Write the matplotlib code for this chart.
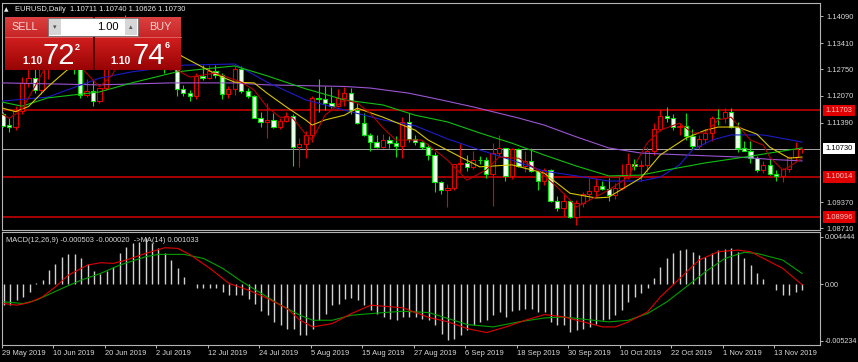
import matplotlib
matplotlib.use("Agg")
import matplotlib.pyplot as plt
import matplotlib.transforms as mtransforms
from matplotlib.patches import Rectangle
from matplotlib.colors import to_rgb
import numpy as np
import pandas as pd

plt.rcParams['font.family'] = ['Liberation Sans', 'DejaVu Sans']

# EURUSD daily bars, 29 May - 19 Nov 2019
dates = pd.bdate_range("2019-05-29", "2019-11-19")

opens = [1.1161, 1.1133, 1.1128, 1.1169, 1.1240, 1.1252, 1.1222, 1.1276, 1.1332, 1.1313,
         1.1326, 1.1288, 1.1275, 1.1209, 1.1219, 1.1194, 1.1227, 1.1293, 1.1369, 1.1398,
         1.1366, 1.1370, 1.1369, 1.1373, 1.1286, 1.1288, 1.1283, 1.1284, 1.1225, 1.1215,
         1.1207, 1.1258, 1.1253, 1.1271, 1.1260, 1.1211, 1.1225, 1.1276, 1.1219, 1.1208,
         1.1152, 1.1141, 1.1147, 1.1127, 1.1143, 1.1155, 1.1078, 1.1084, 1.1108, 1.1202,
         1.1199, 1.1190, 1.1181, 1.1202, 1.1214, 1.1170, 1.1139, 1.1107, 1.1090, 1.1078,
         1.1096, 1.1087, 1.1081, 1.1142, 1.1097, 1.1089, 1.1077, 1.1057, 1.0989, 1.0967,
         1.0973, 1.1034, 1.1037, 1.1027, 1.1045, 1.1044, 1.1008, 1.1063, 1.1074, 1.1003,
         1.1072, 1.1030, 1.1042, 1.1016, 1.0990, 1.1018, 1.0941, 1.0922, 1.0940, 1.0899,
         1.0934, 1.0959, 1.0966, 1.0978, 1.0971, 1.0955, 1.0973, 1.1003, 1.1034, 1.1030,
         1.1032, 1.1068, 1.1124, 1.1156, 1.1150, 1.1127, 1.1130, 1.1105, 1.1080, 1.1097,
         1.1113, 1.1152, 1.1150, 1.1166, 1.1129, 1.1074, 1.1068, 1.1050, 1.1020, 1.1032,
         1.1010, 1.1005, 1.1022, 1.1051, 1.10711]
highs = [1.1165, 1.1150, 1.1181, 1.1256, 1.1285, 1.1307, 1.1310, 1.1348, 1.1336, 1.1346,
         1.1334, 1.1296, 1.1290, 1.1250, 1.1247, 1.1228, 1.1318, 1.1373, 1.1404, 1.1412,
         1.1385, 1.1393, 1.1380, 1.1376, 1.1321, 1.1304, 1.1295, 1.1286, 1.1234, 1.1223,
         1.1265, 1.1286, 1.1286, 1.1285, 1.1265, 1.1233, 1.1282, 1.1284, 1.1228, 1.1210,
         1.1165, 1.1188, 1.1163, 1.1151, 1.1167, 1.1162, 1.1100, 1.1117, 1.1207, 1.1250,
         1.1232, 1.1229, 1.1225, 1.1230, 1.1228, 1.1188, 1.1163, 1.1113, 1.1108, 1.1111,
         1.1106, 1.1105, 1.1153, 1.1164, 1.1108, 1.1093, 1.1085, 1.1065, 1.0990, 1.0983,
         1.1034, 1.1085, 1.1057, 1.1067, 1.1055, 1.1053, 1.1087, 1.1109, 1.1075, 1.1075,
         1.1076, 1.1068, 1.1076, 1.1019, 1.1025, 1.1022, 1.0953, 1.0960, 1.0944, 1.0943,
         1.0963, 1.0998, 1.0999, 1.0991, 1.0999, 1.0986, 1.1035, 1.1063, 1.1047, 1.1044,
         1.1077, 1.1139, 1.1172, 1.1179, 1.1160, 1.1139, 1.1163, 1.1124, 1.1107, 1.1124,
         1.1155, 1.1175, 1.1177, 1.1176, 1.1140, 1.1092, 1.1093, 1.1055, 1.1041, 1.1046,
         1.1020, 1.1023, 1.1054, 1.1089, 1.10740]
lows = [1.1128, 1.1116, 1.1120, 1.1160, 1.1229, 1.1215, 1.1211, 1.1251, 1.1293, 1.1303,
        1.1284, 1.1263, 1.1202, 1.1203, 1.1181, 1.1188, 1.1222, 1.1285, 1.1365, 1.1361,
        1.1359, 1.1364, 1.1351, 1.1281, 1.1276, 1.1266, 1.1272, 1.1207, 1.1208, 1.1193,
        1.1200, 1.1247, 1.1249, 1.1253, 1.1200, 1.1201, 1.1209, 1.1214, 1.1201, 1.1150,
        1.1127, 1.1101, 1.1125, 1.1123, 1.1141, 1.1028, 1.1027, 1.1050, 1.1090, 1.1165,
        1.1170, 1.1177, 1.1178, 1.1182, 1.1160, 1.1136, 1.1106, 1.1066, 1.1076, 1.1075,
        1.1076, 1.1052, 1.1050, 1.1089, 1.1082, 1.1073, 1.1045, 1.0964, 1.0957, 1.0926,
        1.0967, 1.1015, 1.1017, 1.1022, 1.1034, 1.0998, 1.0927, 1.1055, 1.0992, 1.0995,
        1.1026, 1.1013, 1.1015, 1.0967, 1.0982, 1.0938, 1.0915, 1.0903, 1.0896, 1.0879,
        1.0924, 1.0942, 1.0950, 1.0967, 1.0940, 1.0945, 1.0967, 1.0995, 1.1018, 1.0992,
        1.1013, 1.1057, 1.1118, 1.1142, 1.1121, 1.1108, 1.1094, 1.1073, 1.1072, 1.1086,
        1.1093, 1.1133, 1.1138, 1.1125, 1.1064, 1.1066, 1.1036, 1.1014, 1.1012, 1.1006,
        1.0990, 1.0989, 1.1014, 1.1043, 1.10626]
closes = [1.1130, 1.1128, 1.1169, 1.1240, 1.1252, 1.1222, 1.1276, 1.1332, 1.1313, 1.1326,
          1.1288, 1.1275, 1.1209, 1.1219, 1.1194, 1.1227, 1.1293, 1.1369, 1.1398, 1.1366,
          1.1370, 1.1369, 1.1373, 1.1286, 1.1288, 1.1283, 1.1284, 1.1225, 1.1215, 1.1207,
          1.1258, 1.1253, 1.1271, 1.1260, 1.1211, 1.1225, 1.1276, 1.1219, 1.1208, 1.1152,
          1.1141, 1.1147, 1.1127, 1.1143, 1.1155, 1.1078, 1.1084, 1.1108, 1.1202, 1.1199,
          1.1190, 1.1181, 1.1202, 1.1214, 1.1170, 1.1139, 1.1107, 1.1090, 1.1078, 1.1096,
          1.1087, 1.1081, 1.1142, 1.1097, 1.1089, 1.1077, 1.1057, 1.0989, 1.0967, 1.0973,
          1.1034, 1.1037, 1.1027, 1.1045, 1.1044, 1.1008, 1.1063, 1.1074, 1.1003, 1.1072,
          1.1030, 1.1042, 1.1016, 1.0990, 1.1018, 1.0941, 1.0922, 1.0940, 1.0899, 1.0934,
          1.0959, 1.0966, 1.0978, 1.0971, 1.0955, 1.0973, 1.1003, 1.1034, 1.1030, 1.1032,
          1.1068, 1.1124, 1.1156, 1.1150, 1.1127, 1.1130, 1.1105, 1.1080, 1.1097, 1.1113,
          1.1152, 1.1150, 1.1166, 1.1129, 1.1074, 1.1068, 1.1050, 1.1020, 1.1032, 1.1010,
          1.1005, 1.1022, 1.1051, 1.1071, 1.10730]

# moving average lines, read at bar numbers (bar 0 = 29 May)
purple_bars = [0, 15, 26, 36, 41, 53, 57, 63, 68, 73, 80, 84, 89, 94, 99, 106, 114, 119, 124]
purple_ma = [1.1240, 1.1235, 1.1240, 1.1240, 1.1235, 1.1231, 1.1227, 1.1214, 1.1197, 1.1179,
             1.1151, 1.1133, 1.1103, 1.1075, 1.1062, 1.1057, 1.1052, 1.1046, 1.1042]
green_bars = [0, 3, 7, 15, 20, 27, 31, 36, 41, 47, 53, 59, 64, 69, 74, 79, 84, 89, 94, 99,
              103, 109, 114, 119, 124]
green_ma = [1.1191, 1.1181, 1.1202, 1.1217, 1.1240, 1.1268, 1.1275, 1.1283, 1.1258, 1.1225,
            1.1197, 1.1184, 1.1158, 1.1141, 1.1113, 1.1087, 1.1057, 1.1029, 1.1004, 1.1006,
            1.1019, 1.1037, 1.1049, 1.1062, 1.1075]
blue_bars = [0, 7, 15, 20, 28, 36, 41, 47, 53, 59, 64, 69, 74, 79, 84, 89, 94, 99, 102,
             105, 107, 110, 113, 118, 124]
blue_ma = [1.1194, 1.1204, 1.1252, 1.1268, 1.1285, 1.1288, 1.1242, 1.1197, 1.1171, 1.1146,
           1.1131, 1.1098, 1.1070, 1.1044, 1.1016, 1.1004, 1.0991, 1.0991, 1.1001, 1.1032,
           1.1070, 1.1095, 1.1108, 1.1108, 1.1090]
yellow_bars = [0, 2, 4, 7, 10, 15, 20, 24, 28, 31, 34, 36, 39, 41, 44, 47, 48, 50, 53, 55,
               59, 64, 66, 71, 74, 79, 84, 88, 92, 94, 99, 102, 106, 109, 111, 114, 117, 119,
               122, 124]
yellow_ma = [1.1176, 1.1167, 1.1180, 1.1230, 1.1273, 1.1300, 1.1340, 1.1345, 1.1306, 1.1280,
             1.1255, 1.1242, 1.1240, 1.1214, 1.1179, 1.1146, 1.1133, 1.1146, 1.1158, 1.1176,
             1.1153, 1.1120, 1.1095, 1.1052, 1.1027, 1.1032, 1.1011, 1.0960, 1.0948, 1.0950,
             1.0999, 1.1057, 1.1100, 1.1120, 1.1128, 1.1128, 1.1110, 1.1077, 1.1049, 1.1052]
red_bars = [0, 1, 3, 7, 10, 12, 15, 17, 19, 21, 23, 25, 27, 29, 33, 37, 39, 41, 43, 45,
            47, 48, 50, 53, 55, 57, 59, 61, 65, 67, 69, 71, 72, 75, 77, 80, 83, 86, 88, 89,
            94, 97, 100, 102, 105, 107, 109, 111, 113, 116, 118, 119, 121, 122, 124]
red_ma = [1.1160, 1.1150, 1.1172, 1.1291, 1.1307, 1.1282, 1.1230, 1.1260, 1.1331, 1.1374,
          1.1353, 1.1320, 1.1273, 1.1255, 1.1265, 1.1242, 1.1222, 1.1179, 1.1153, 1.1151,
          1.1110, 1.1095, 1.1158, 1.1197, 1.1189, 1.1163, 1.1126, 1.1095, 1.1095, 1.1070,
          1.1044, 1.1011, 1.0993, 1.1019, 1.1052, 1.1049, 1.1019, 1.0976, 1.0943, 1.0925,
          1.0968, 1.1001, 1.1088, 1.1120, 1.1138, 1.1113, 1.1113, 1.1146, 1.1153, 1.1095,
          1.1082, 1.1052, 1.1019, 1.1027, 1.1049]

levels = [1.11703, 1.10014, 1.08996]
last_price = 1.10730
price_ticks = [1.14090, 1.13410, 1.12750, 1.12070, 1.11390, 1.09370, 1.08710]

# MACD(12,26,9) histogram, signal and MA(14)
macd_hist = [-0.00193, -0.00193, -0.00147, -0.00115, -0.00069, 0.00010, 0.00041, 0.00134, 0.00190, 0.00253,
             0.00281, 0.00281, 0.00243, 0.00187, 0.00125, 0.00094, 0.00125, 0.00165, 0.00290, 0.00353,
             0.00384, 0.00400, 0.00430, 0.00384, 0.00337, 0.00290, 0.00228, 0.00150, 0.00072, 0.00003,
             -0.00031, -0.00031, -0.00031, -0.00037, -0.00069, -0.00094, -0.00094, -0.00100, -0.00131, -0.00178,
             -0.00250, -0.00287, -0.00349, -0.00381, -0.00412, -0.00412, -0.00468, -0.00474, -0.00412, -0.00334,
             -0.00271, -0.00193, -0.00178, -0.00131, -0.00125, -0.00147, -0.00193, -0.00240, -0.00271, -0.00303,
             -0.00318, -0.00334, -0.00303, -0.00303, -0.00303, -0.00318, -0.00334, -0.00381, -0.00459, -0.00521,
             -0.00505, -0.00474, -0.00427, -0.00381, -0.00349, -0.00334, -0.00287, -0.00256, -0.00303, -0.00250,
             -0.00240, -0.00225, -0.00225, -0.00256, -0.00256, -0.00349, -0.00381, -0.00381, -0.00443, -0.00427,
             -0.00412, -0.00396, -0.00365, -0.00334, -0.00318, -0.00287, -0.00240, -0.00168, -0.00115, -0.00084,
             -0.00031, 0.00062, 0.00165, 0.00250, 0.00290, 0.00321, 0.00331, 0.00306, 0.00275, 0.00259,
             0.00290, 0.00321, 0.00331, 0.00337, 0.00300, 0.00243, 0.00181, 0.00103, 0.00050, 0.00009,
             -0.00053, -0.00100, -0.00094, -0.00069, -0.00050]
signal_bars = [0, 2, 4, 6, 8, 10, 13, 15, 17, 19, 22, 25, 27, 29, 32, 35, 38, 41, 44, 46,
               48, 51, 54, 57, 62, 66, 69, 72, 75, 78, 81, 84, 87, 90, 93, 95, 97, 100, 102,
               105, 108, 111, 114, 116, 118, 121, 124]
signal_line = [-0.00178, -0.00193, -0.00168, -0.00115, -0.00022, 0.00087, 0.00181, 0.00203, 0.00197, 0.00228,
               0.00290, 0.00343, 0.00337, 0.00275, 0.00150, 0.00009, -0.00053, -0.00131, -0.00225, -0.00334,
               -0.00396, -0.00365, -0.00271, -0.00193, -0.00218, -0.00308, -0.00349, -0.00412, -0.00449, -0.00396,
               -0.00334, -0.00281, -0.00303, -0.00349, -0.00396, -0.00396, -0.00349, -0.00256, -0.00115,
               0.00056, 0.00228, 0.00306, 0.00321, 0.00306, 0.00243, 0.00150, -0.00002]
ma14_bars = [0, 3, 5, 9, 12, 15, 18, 22, 24, 28, 31, 34, 37, 40, 43, 46, 48, 51, 54, 59,
             62, 66, 69, 72, 76, 80, 84, 87, 90, 94, 97, 100, 103, 106, 109, 112, 115, 117,
             121, 124]
ma14_line = [-0.00162, -0.00178, -0.00147, -0.00037, 0.00041, 0.00103, 0.00181, 0.00259, 0.00281, 0.00281,
             0.00243, 0.00150, 0.00025, -0.00084, -0.00193, -0.00287, -0.00334, -0.00334, -0.00287, -0.00262,
             -0.00250, -0.00262, -0.00318, -0.00374, -0.00396, -0.00349, -0.00312, -0.00303, -0.00324, -0.00349,
             -0.00334, -0.00271, -0.00162, -0.00022, 0.00119, 0.00243, 0.00300, 0.00290, 0.00228, 0.00103]

W, H = 858, 362
fig = plt.figure(figsize=(W / 100, H / 100), dpi=100, facecolor='black')


def px_axes(xa, ya, xb, yb):
    a = fig.add_axes([xa / W, 1 - yb / H, (xb - xa) / W, (yb - ya) / H])
    a.set_facecolor('black')
    for s in a.spines.values():
        s.set_color('#b4b4b4')
        s.set_linewidth(0.8)
    return a


ax = px_axes(2, 3, 820, 230)
ax2 = px_axes(2, 232, 820, 345)
xlim = (-0.11, 126.79)

# --- price panel
for lv in levels:
    ax.axhline(lv, color='#b40000', lw=1.3, zorder=1)
ax.axhline(last_price, color='#a8a8a8', lw=0.7, zorder=1)

bull_col, bear_col = '#e60000', '#00e600'
for i in range(len(closes)):
    o, h, l, c = opens[i], highs[i], lows[i], closes[i]
    up = c >= o
    col = bull_col if up else bear_col
    ax.vlines(i, l, h, color=col, lw=0.8, zorder=3)
    if abs(c - o) < 0.00004:
        ax.hlines(o, i - 0.33, i + 0.33, color=col, lw=0.9, zorder=4)
    else:
        ax.add_patch(Rectangle((i - 0.33, min(o, c)), 0.66, abs(c - o),
                               fc='black' if up else '#f2fff2', ec=col, lw=0.8, zorder=4))

ax.plot(purple_bars, purple_ma, color='#9b55d2', lw=0.8, zorder=5)
ax.plot(blue_bars, blue_ma, color='#1c1cc8', lw=0.8, zorder=5)
ax.plot(green_bars, green_ma, color='#10c010', lw=0.8, zorder=5)
ax.plot(yellow_bars, yellow_ma, color='#d8c400', lw=0.8, zorder=5)
ax.plot(red_bars, red_ma, color='#b40000', lw=0.8, zorder=5)

ax.set_xlim(*xlim)
ax.set_ylim(1.08667, 1.14428)
ax.set_xticks([])
ax.yaxis.tick_right()
ax.set_yticks(price_ticks)
ax.set_yticklabels([f"{p:.5f}" for p in price_ticks])
ax.tick_params(axis='y', colors='#d8d8d8', labelsize=5.4, length=2.2, width=0.6, pad=2.2)

for lv in levels:
    ax.annotate(f"{lv:.5f}", xy=(1, lv), xycoords=('axes fraction', 'data'),
                xytext=(4.0, 0), textcoords='offset points', va='center', ha='left',
                fontsize=5.4, color='#ffc4c4', annotation_clip=False,
                bbox=dict(boxstyle='square,pad=0.3', fc='#e00000', ec='none'))
ax.annotate(f"{last_price:.5f}", xy=(1, last_price), xycoords=('axes fraction', 'data'),
            xytext=(4.0, 0), textcoords='offset points', va='center', ha='left',
            fontsize=5.4, color='black', annotation_clip=False,
            bbox=dict(boxstyle='square,pad=0.3', fc='white', ec='none'))

# --- MACD panel
ax2.vlines(range(len(macd_hist)), 0, macd_hist, color='#d2d2d2', lw=1.0, zorder=2)
ax2.plot(ma14_bars, ma14_line, color='#00a000', lw=0.8, zorder=3)
ax2.plot(signal_bars, signal_line, color='#e00000', lw=0.8, zorder=3)
ax2.set_xlim(*xlim)
ax2.set_ylim(-0.005648, 0.004898)
ax2.yaxis.tick_right()
ax2.set_yticks([0.004444, 0.0, -0.005234])
ax2.set_yticklabels(['0.004444', '0.00', '-0.005234'])
ax2.tick_params(axis='y', colors='#d8d8d8', labelsize=5.2, length=2.2, width=0.6, pad=1.5)

tick_idx = np.arange(0, len(dates), 8)
ax2.set_xticks(tick_idx - 0.3)
ax2.set_xticklabels([f"{d.day} {d:%b %Y}" for d in dates[tick_idx]])
shift = mtransforms.ScaledTranslation(2 / 100, 0, fig.dpi_scale_trans)
for lbl in ax2.get_xticklabels():
    lbl.set_ha('left')
    lbl.set_transform(lbl.get_transform() + shift)
ax2.tick_params(axis='x', colors='#d8d8d8', labelsize=5.4, length=2.2, width=0.6, pad=1.2)

# --- overlay in pixel coordinates (title, one-click panel)
ov = fig.add_axes([0, 0, 1, 1])
ov.patch.set_alpha(0)


def red_block(xa, xb, ya, yb, c_top, c_bot):
    g = np.linspace(0, 1, 40)[:, None, None]
    rgb = (1 - g) * np.array(to_rgb(c_top)) + g * np.array(to_rgb(c_bot))
    ov.imshow(np.repeat(rgb, 2, axis=1), extent=(xa, xb, yb, ya), aspect='auto',
              interpolation='bilinear', zorder=5)


for xa, xb in [(5, 93), (95, 181)]:
    red_block(xa, xb, 17, 37, '#dc4040', '#c82626')
    red_block(xa, xb, 37, 70, '#d21e1e', '#980404')
    ov.plot([xa, xb], [37, 37], color='#e46a6a', lw=0.6, zorder=6)
ov.add_patch(Rectangle((93, 17), 2, 53, fc='#5a0000', ec='none', zorder=6))

ov.add_patch(Rectangle((48, 18), 90, 18, fc='white', ec='#707070', lw=0.6, zorder=7))
ov.add_patch(Rectangle((49, 19), 12, 16, fc='#d6d6d6', ec='none', zorder=8))
ov.add_patch(Rectangle((125, 19), 12, 16, fc='#d6d6d6', ec='none', zorder=8))
ov.text(55, 27.5, '\u25be', fontsize=5, family='DejaVu Sans', color='#505050',
        ha='center', va='center', zorder=9)
ov.text(131, 27.5, '\u25b4', fontsize=5, family='DejaVu Sans', color='#505050',
        ha='center', va='center', zorder=9)
ov.text(119, 27.5, '1.00', fontsize=8, color='black', ha='right', va='center', zorder=9)

ov.text(25, 27.5, 'SELL', fontsize=7.8, color='#ffd6d6', ha='center', va='center', zorder=9)
ov.text(160, 27.5, 'BUY', fontsize=7.8, color='#ffd6d6', ha='center', va='center', zorder=9)

ov.text(22, 63.5, '1.10', fontsize=7.5, fontweight='bold', color='white', va='baseline', zorder=9)
ov.text(43, 63.5, '72', fontsize=21, color='white', va='baseline', zorder=9,
        family=['Liberation Sans Narrow', 'Liberation Sans'])
ov.text(75, 50, '2', fontsize=6.5, fontweight='bold', color='white', va='baseline', zorder=9)
ov.text(110, 63.5, '1.10', fontsize=7.5, fontweight='bold', color='white', va='baseline', zorder=9)
ov.text(133, 63.5, '74', fontsize=21, color='white', va='baseline', zorder=9,
        family=['Liberation Sans Narrow', 'Liberation Sans'])
ov.text(165, 48.5, '6', fontsize=6.5, fontweight='bold', color='white', va='baseline', zorder=9)

ov.text(6.5, 9.5, '\u25b2', fontsize=4.2, family='DejaVu Sans', color='#e8e8e8',
        ha='center', va='center', zorder=9)
ov.text(15, 9.5, 'EURUSD,Daily  1.10711 1.10740 1.10626 1.10730', fontsize=5.4,
        color='#ececec', va='center', zorder=9)
ov.text(6.5, 240, 'MACD(12,26,9) -0.000503 -0.000020  ->MA(14) 0.001033', fontsize=5.4,
        color='#d8d8d8', va='center', zorder=9)

ov.set_xlim(0, W)
ov.set_ylim(H, 0)
ov.axis('off')

fig.savefig('out.png', dpi=100, facecolor='black')
